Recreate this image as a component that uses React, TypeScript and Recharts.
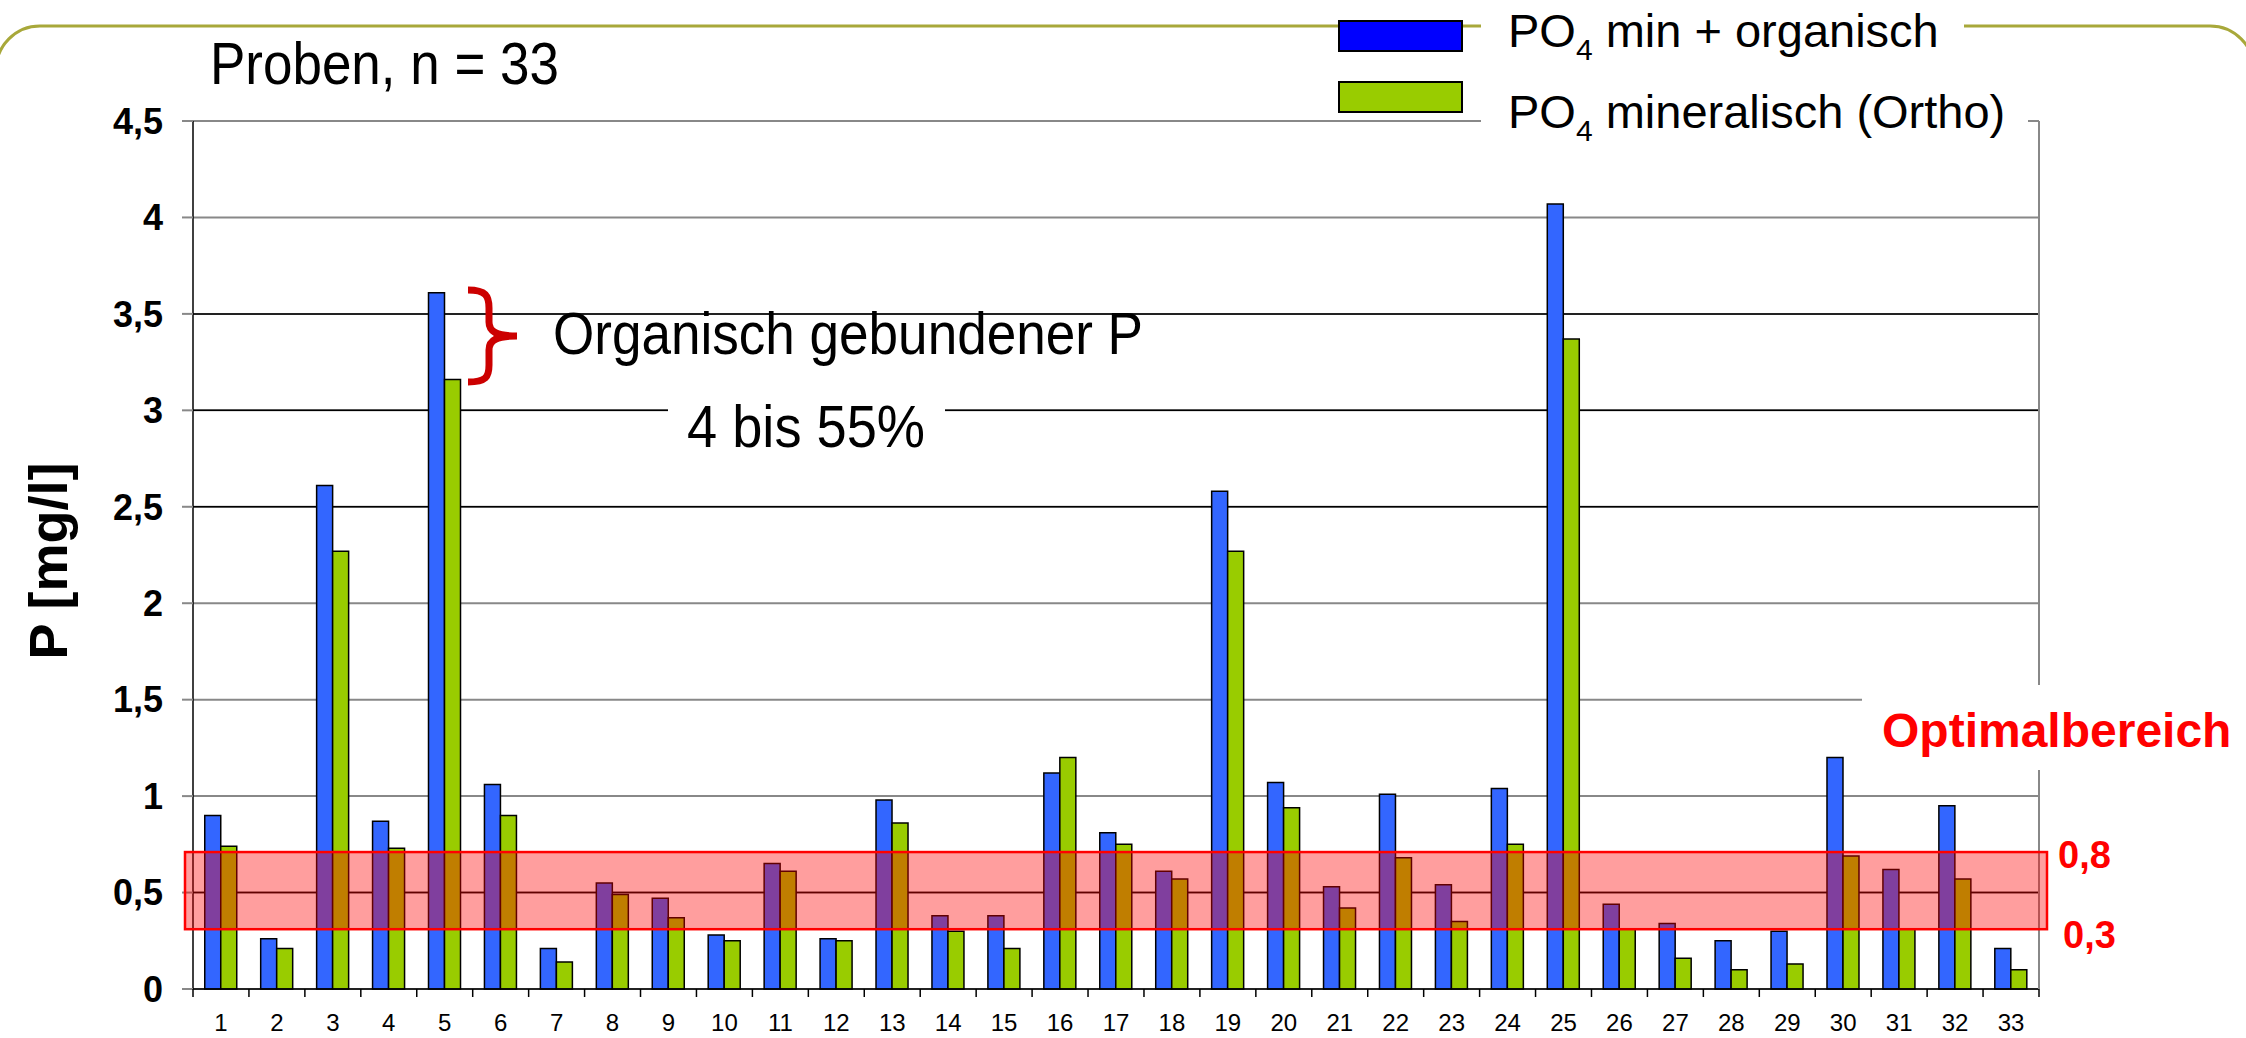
import React from 'react';
import {
  BarChart,
  Bar,
  XAxis,
  YAxis,
  CartesianGrid,
  ReferenceArea,
  Legend,
} from 'recharts';

// sample numbers on the x axis
const SAMPLES = [
  '1', '2', '3', '4', '5', '6', '7', '8', '9', '10', '11',
  '12', '13', '14', '15', '16', '17', '18', '19', '20', '21', '22',
  '23', '24', '25', '26', '27', '28', '29', '30', '31', '32', '33',
];

// PO4 min + organisch [mg/l]
const TOTAL_P = [
  0.9, 0.26, 2.61, 0.87, 3.61, 1.06, 0.21, 0.55, 0.47, 0.28, 0.65,
  0.26, 0.98, 0.38, 0.38, 1.12, 0.81, 0.61, 2.58, 1.07, 0.53, 1.01,
  0.54, 1.04, 4.07, 0.44, 0.34, 0.25, 0.3, 1.2, 0.62, 0.95, 0.21,
];

// PO4 mineralisch (Ortho) [mg/l]
const ORTHO_P = [
  0.74, 0.21, 2.27, 0.73, 3.16, 0.9, 0.14, 0.49, 0.37, 0.25, 0.61,
  0.25, 0.86, 0.3, 0.21, 1.2, 0.75, 0.57, 2.27, 0.94, 0.42, 0.68,
  0.35, 0.75, 3.37, 0.31, 0.16, 0.1, 0.13, 0.69, 0.31, 0.57, 0.1,
];

const Y_MAX = 4.5;
const Y_TICKS = [0, 0.5, 1, 1.5, 2, 2.5, 3, 3.5, 4, 4.5];
const DARK_GRID = [0.5, 2.5, 3, 3.5];
const OPTIMUM = [0.31, 0.71];
const OPTIMUM_LABELS = ['0,8', '0,3'];

const SERIES_NAMES = ['PO4 min + organisch', 'PO4 mineralisch (Ortho)'];
const SWATCH: Record<string, string> = { total: '#0000FF', ortho: '#99CC00' };

const W = 2246;
const H = 1038;
const FONT = '"Liberation Sans", Arial, Helvetica, sans-serif';

const data = SAMPLES.map((s, i) => ({
  sample: s,
  total: TOTAL_P[i],
  ortho: ORTHO_P[i],
}));

const fmt = (v: number) => String(v).replace('.', ',');

// dark grid lines, placed on the plot area recharts hands over
const darkGridY = (args: any) => {
  const off = args && args.offset;
  if (!off) return [];
  return DARK_GRID.map((v) => off.top + off.height * (1 - v / Y_MAX));
};

// x ticks: Excel-style tick marks between the categories
const SampleTick = (props: any) => {
  const { x, y, payload, index, width } = props;
  const band = (width || 1846) / SAMPLES.length;
  return (
    <g>
      <line x1={x - band / 2} x2={x - band / 2} y1={y} y2={y + 8} stroke="#000" strokeWidth={1.5} />
      {index === SAMPLES.length - 1 && (
        <line x1={x + band / 2} x2={x + band / 2} y1={y} y2={y + 8} stroke="#000" strokeWidth={1.5} />
      )}
      <text x={x} y={y + 42} textAnchor="middle" fontSize={24} fontFamily={FONT} fill="#000">
        {payload.value}
      </text>
    </g>
  );
};

const LEGEND_TOP = [21, 82];
const LEGEND_BASE = [47, 128];

const LegendBox = (props: any) => {
  const payload = props.payload || [];
  return (
    <svg width={W} height={150} style={{ display: 'block' }}>
      <rect x={1481} y={0} width={483} height={62} fill="#fff" />
      <rect x={1481} y={62} width={547} height={84} fill="#fff" />
      {payload.map((p: any, i: number) => (
        <g key={p.value}>
          <rect
            x={1339}
            y={LEGEND_TOP[i]}
            width={123}
            height={30}
            fill={SWATCH[p.dataKey] || p.color}
            stroke="#000"
            strokeWidth={2}
          />
          <text x={1508} y={LEGEND_BASE[i]} fontSize={47} fontFamily={FONT} fill="#000">
            PO
            <tspan fontSize={30} dy={13}>4</tspan>
            <tspan dy={-13}>{String(p.value).slice(3)}</tspan>
          </text>
        </g>
      ))}
    </svg>
  );
};

const OptimumShape = (p: any) => (
  <rect
    x={p.x - 8}
    y={p.y}
    width={p.width + 16}
    height={p.height}
    fill="#FF0000"
    fillOpacity={0.38}
    stroke="#FF0000"
    strokeWidth={2.5}
  />
);

export default function App() {
  return (
    <div
      style={{
        position: 'absolute',
        left: 0,
        top: 0,
        width: W,
        height: H,
        overflow: 'hidden',
        background: '#fff',
        fontFamily: FONT,
      }}
    >
      <svg width={W} height={H} style={{ position: 'absolute', left: 0, top: 0 }}>
        <rect x={-4} y={26} width={2258} height={1200} rx={44} fill="none" stroke="#A8A83A" strokeWidth={3} />
      </svg>

      <BarChart
        width={W}
        height={H}
        data={data}
        margin={{ top: 121, right: 206, bottom: 0, left: 73 }}
        barCategoryGap="21%"
        barGap={0}
      >
        <CartesianGrid vertical={false} stroke="#888" strokeWidth={2} />
        <CartesianGrid
          vertical={false}
          stroke="#000"
          strokeWidth={1.5}
          horizontalCoordinatesGenerator={darkGridY}
        />
        <XAxis
          dataKey="sample"
          interval={0}
          height={49}
          tickSize={0}
          tickMargin={0}
          tickLine={false}
          axisLine={{ stroke: '#000', strokeWidth: 1.5 }}
          tick={<SampleTick />}
        />
        <YAxis
          width={120}
          domain={[0, Y_MAX]}
          ticks={Y_TICKS}
          tickFormatter={fmt}
          tickSize={11}
          tickMargin={19}
          tickLine={{ stroke: '#888', strokeWidth: 2 }}
          axisLine={{ stroke: '#000', strokeWidth: 1.5 }}
          tick={{ fill: '#000', fontSize: 36, fontWeight: 'bold', fontFamily: FONT }}
        />
        <YAxis
          yAxisId="right"
          orientation="right"
          width={1}
          domain={[0, Y_MAX]}
          ticks={Y_TICKS}
          tick={false}
          tickLine={false}
          axisLine={{ stroke: '#888', strokeWidth: 2 }}
        />
        <Legend
          verticalAlign="middle"
          align="center"
          layout="horizontal"
          wrapperStyle={{ position: 'absolute', left: 0, top: 0, width: W, height: 150, pointerEvents: 'none' }}
          content={LegendBox}
        />
        <Bar
          dataKey="total"
          name={SERIES_NAMES[0]}
          fill="#3366FF"
          stroke="#000"
          strokeWidth={1.5}
          isAnimationActive={false}
        />
        <Bar
          dataKey="ortho"
          name={SERIES_NAMES[1]}
          fill="#99CC00"
          stroke="#000"
          strokeWidth={1.5}
          isAnimationActive={false}
        />
        <ReferenceArea y1={OPTIMUM[0]} y2={OPTIMUM[1]} shape={OptimumShape} zIndex={650} />
      </BarChart>

      <svg width={W} height={H} style={{ position: 'absolute', left: 0, top: 0, pointerEvents: 'none' }}>
        <text x={210} y={84} fontSize={60} textLength={349} lengthAdjust="spacingAndGlyphs" fontFamily={FONT} fill="#000">
          Proben, n = 33
        </text>
        <text
          x={67}
          y={561}
          transform="rotate(-90 67 561)"
          textAnchor="middle"
          fontSize={54}
          fontWeight="bold"
          fontFamily={FONT}
          fill="#000"
        >
          P [mg/l]
        </text>
        <path
          d="M 468 290 C 486 290, 489 296, 489 308 L 489 322 C 489 332, 497 336, 517 336 C 497 336, 489 340, 489 350 L 489 365 C 489 377, 486 382, 468 382"
          fill="none"
          stroke="#CC0000"
          strokeWidth={7}
        />
        <text x={553} y={354} fontSize={60} textLength={590} lengthAdjust="spacingAndGlyphs" fontFamily={FONT} fill="#000">
          Organisch gebundener P
        </text>
        <rect x={668} y={398} width={277} height={60} fill="#fff" />
        <text x={687} y={447} fontSize={60} textLength={238} lengthAdjust="spacingAndGlyphs" fontFamily={FONT} fill="#000">
          4 bis 55%
        </text>
        <rect x={1862} y={685} width={384} height={85} fill="#fff" />
        <text x={1882} y={747} fontSize={48} fontWeight="bold" fontFamily={FONT} fill="#FF0000">
          Optimalbereich
        </text>
        <text x={2058} y={868} fontSize={38} fontWeight="bold" fontFamily={FONT} fill="#FF0000">
          {OPTIMUM_LABELS[0]}
        </text>
        <text x={2063} y={948} fontSize={38} fontWeight="bold" fontFamily={FONT} fill="#FF0000">
          {OPTIMUM_LABELS[1]}
        </text>
      </svg>
    </div>
  );
}
